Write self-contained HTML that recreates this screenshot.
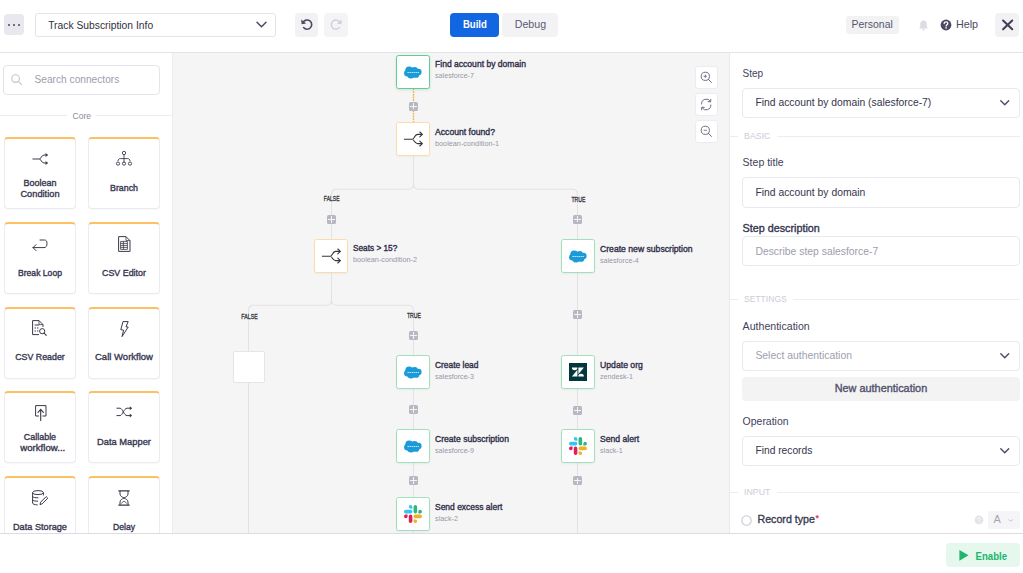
<!DOCTYPE html>
<html><head><meta charset="utf-8"><style>
*{box-sizing:border-box;margin:0;padding:0}
html,body{width:1023px;height:573px;overflow:hidden;background:#fff;font-family:"Liberation Sans",sans-serif}
.a{position:absolute}
svg.a{overflow:visible}
</style></head><body>
<div class="a" style="left:0px;top:0px;width:1023px;height:52px;background:#fff"></div>
<div class="a" style="left:0px;top:52px;width:1023px;height:1px;background:#e2e2e9"></div>
<div class="a" style="left:0px;top:53px;width:172px;height:480px;background:#fff"></div>
<div class="a" style="left:172px;top:53px;width:1px;height:480px;background:#ebebf0"></div>
<div class="a" style="left:173px;top:53px;width:556px;height:480px;background:#f5f5f5"></div>
<div class="a" style="left:729px;top:53px;width:1px;height:480px;background:#e8e8ed"></div>
<div class="a" style="left:730px;top:53px;width:293px;height:480px;background:#fff"></div>
<div class="a" style="left:4px;top:14px;width:20px;height:21px;background:#e8e8ee;border-radius:4px"></div>
<div class="a" style="left:7.8px;top:23.6px;width:2.4px;height:2.4px;background:#4a4a62;border-radius:50%"></div>
<div class="a" style="left:12.8px;top:23.6px;width:2.4px;height:2.4px;background:#4a4a62;border-radius:50%"></div>
<div class="a" style="left:17.8px;top:23.6px;width:2.4px;height:2.4px;background:#4a4a62;border-radius:50%"></div>
<div class="a" style="left:35px;top:13px;width:241px;height:24px;border:1px solid #e4e4ea;border-radius:3px;background:#fff"></div>
<div class="a" style="left:48.20px;top:21.00px;font-size:10.30px;line-height:10.30px;letter-spacing:0.000px;font-weight:normal;color:#2f2f40;white-space:nowrap;transform:scaleY(1.132);transform-origin:0 8px;">Track Subscription Info</div>
<svg class="a" style="left:256px;top:21px" width="11" height="7" viewBox="0 0 11 7" fill="none"><path d="M1 1.2 L5.5 5.7 L10 1.2" stroke="#4a4a60" stroke-width="1.5" stroke-linecap="round" stroke-linejoin="round"/></svg>
<div class="a" style="left:295px;top:13px;width:23px;height:24px;background:#f2f2f4;border-radius:4px"></div>
<svg class="a" style="left:300px;top:18px" width="13" height="13" viewBox="0 0 13 13" fill="none"><path d="M3.2 4.2 A4.6 4.6 0 1 1 3.6 9.6" stroke="#4a4a62" stroke-width="1.6" stroke-linecap="round"/><path d="M1.2 1.6 L1.6 6.2 L6.2 5.4 Z" fill="#4a4a62"/></svg>
<div class="a" style="left:324px;top:13px;width:24px;height:24px;background:#f4f4f6;border-radius:4px"></div>
<svg class="a" style="left:330px;top:18px" width="13" height="13" viewBox="0 0 13 13" fill="none"><path d="M9.8 4.2 A4.6 4.6 0 1 0 9.4 9.6" stroke="#cfcfd9" stroke-width="1.4" stroke-linecap="round"/><path d="M11.8 1.6 L11.4 6.2 L6.8 5.4 Z" fill="#cfcfd9"/></svg>
<div class="a" style="left:450px;top:13px;width:49px;height:24px;background:#1366e1;border-radius:4px"></div>
<div class="a" style="left:462.90px;top:20.00px;font-size:9.60px;line-height:9.60px;letter-spacing:0.000px;font-weight:bold;color:#fff;white-space:nowrap;transform:scaleY(1.143);transform-origin:0 8px;">Build</div>
<div class="a" style="left:502px;top:13px;width:56px;height:24px;background:#f3f3f5;border-radius:4px"></div>
<div class="a" style="left:514.70px;top:19.00px;font-size:10.66px;line-height:10.66px;letter-spacing:0.000px;font-weight:normal;color:#5a5a70;white-space:nowrap;transform:scaleY(1.030);transform-origin:0 9px;">Debug</div>
<div class="a" style="left:846px;top:16px;width:53px;height:18px;background:#f2f2f4;border-radius:3px"></div>
<div class="a" style="left:851.60px;top:20.00px;font-size:10.44px;line-height:10.44px;letter-spacing:0.000px;font-weight:normal;color:#55556c;white-space:nowrap;transform:scaleY(1.012);transform-origin:0 8px;">Personal</div>
<svg class="a" style="left:918px;top:19px" width="11" height="12" viewBox="0 0 11 12" fill="none"><path d="M5.5 1.5 C3 1.5 2.2 3.5 2.2 5.5 L2.2 8 L1 9.5 L10 9.5 L8.8 8 L8.8 5.5 C8.8 3.5 8 1.5 5.5 1.5Z" fill="#dcdce4"/><circle cx="5.5" cy="10.6" r="1.1" fill="#dcdce4"/></svg>
<svg class="a" style="left:940px;top:19px" width="12" height="12" viewBox="0 0 12 12" fill="none"><circle cx="6" cy="6" r="5.4" fill="#4a4a62"/><path d="M4.2 4.6 C4.2 3.4 5 2.8 6 2.8 C7 2.8 7.8 3.4 7.8 4.4 C7.8 5.6 6.1 5.7 6.1 7" stroke="#fff" stroke-width="1.3" stroke-linecap="round"/><circle cx="6.05" cy="8.9" r="0.8" fill="#fff"/></svg>
<div class="a" style="left:955.90px;top:19.00px;font-size:10.79px;line-height:10.79px;letter-spacing:0.000px;font-weight:normal;color:#4a4a62;white-space:nowrap;transform:scaleY(0.979);transform-origin:0 9px;">Help</div>
<div class="a" style="left:995px;top:13px;width:24px;height:24px;background:#f2f2f4;border-radius:4px"></div>
<svg class="a" style="left:1001px;top:19px" width="13" height="12" viewBox="0 0 13 12" fill="none"><path d="M2.1 1.5 L11.2 10.2 M11.2 1.5 L2.1 10.2" stroke="#40405a" stroke-width="2.1" stroke-linecap="round"/></svg>
<div class="a" style="left:3px;top:65px;width:157px;height:30px;border:1px solid #e4e4ea;border-radius:4px;background:#fff"></div>
<svg class="a" style="left:11px;top:74px" width="12" height="12" viewBox="0 0 12 12" fill="none"><circle cx="4.6" cy="4.6" r="3.8" stroke="#c4c4cc" stroke-width="1.1"/><path d="M7.4 7.4 L10.6 10.6" stroke="#c4c4cc" stroke-width="1.1" stroke-linecap="round"/></svg>
<div class="a" style="left:34.50px;top:75.00px;font-size:10.19px;line-height:10.19px;letter-spacing:0.000px;font-weight:normal;color:#9d9dab;white-space:nowrap;">Search connectors</div>
<div class="a" style="left:0px;top:115px;width:67px;height:1px;background:#ececf0"></div>
<div class="a" style="left:96px;top:115px;width:76px;height:1px;background:#ececf0"></div>
<div class="a" style="left:72.60px;top:112.00px;font-size:8.54px;line-height:8.54px;letter-spacing:0.000px;font-weight:normal;color:#8c8c9c;white-space:nowrap;">Core</div>
<div class="a" style="left:4px;top:137px;width:72px;height:72px;background:#fff;border:1px solid #ebebf0;border-top:2px solid #fdc062;border-radius:4px;box-shadow:0 1px 1px rgba(0,0,0,0.03)"></div>
<svg class="a" style="left:32.2px;top:153.2px" width="16" height="12" viewBox="0 0 16 12" fill="none"><path d="M0.5 6 L7.5 6 M7.5 6 C9 6 9.5 2 12 2 L15.5 2 M7.5 6 C9 6 9.5 10 12 10 L15.5 10" stroke="#3a3a48" stroke-width="1"/><path d="M13.6 0 L16 2 L13.6 4 Z M13.6 8 L16 10 L13.6 12 Z" fill="#3a3a48"/></svg>
<div class="a" style="left:23.50px;top:179.00px;font-size:8.99px;line-height:8.99px;letter-spacing:0.000px;font-weight:normal;color:#36364f;white-space:nowrap;-webkit-text-stroke:0.35px #36364f;">Boolean</div>
<div class="a" style="left:20.45px;top:190.00px;font-size:9.25px;line-height:9.25px;letter-spacing:0.000px;font-weight:normal;color:#36364f;white-space:nowrap;transform:scaleY(0.963);transform-origin:0 7px;-webkit-text-stroke:0.35px #36364f;">Condition</div>
<div class="a" style="left:88px;top:137px;width:72px;height:72px;background:#fff;border:1px solid #ebebf0;border-top:2px solid #fdc062;border-radius:4px;box-shadow:0 1px 1px rgba(0,0,0,0.03)"></div>
<svg class="a" style="left:116px;top:151.2px" width="16" height="15" viewBox="0 0 16 15" fill="none"><circle cx="8" cy="2" r="1.7" stroke="#3a3a48" stroke-width="0.9"/><path d="M8 3.7 L8 11.6 M8 7.6 L4.2 7.6 C2.8 7.6 2.2 8.6 2 10.2 M8 7.6 L11.8 7.6 C13.2 7.6 13.8 8.6 14 10.2" stroke="#3a3a48" stroke-width="0.9"/><circle cx="2" cy="12.6" r="1.6" stroke="#3a3a48" stroke-width="0.9"/><circle cx="8" cy="12.6" r="1.6" stroke="#3a3a48" stroke-width="0.9"/><circle cx="14" cy="12.6" r="1.6" stroke="#3a3a48" stroke-width="0.9"/></svg>
<div class="a" style="left:110.00px;top:184.00px;font-size:8.84px;line-height:8.84px;letter-spacing:0.000px;font-weight:normal;color:#36364f;white-space:nowrap;-webkit-text-stroke:0.35px #36364f;">Branch</div>
<div class="a" style="left:4px;top:221.75px;width:72px;height:72px;background:#fff;border:1px solid #ebebf0;border-top:2px solid #fdc062;border-radius:4px;box-shadow:0 1px 1px rgba(0,0,0,0.03)"></div>
<svg class="a" style="left:32.2px;top:238.6px" width="16" height="13" viewBox="0 0 16 13" fill="none"><path d="M8 1 L12.5 1 C14 1 15 2 15 4.5 C15 7 14 8.6 12 8.6 L1 8.6 M4 5.6 L1 8.6 L4 11.6" stroke="#3a3a48" stroke-width="1" stroke-linecap="round" stroke-linejoin="round"/></svg>
<div class="a" style="left:18.00px;top:269.00px;font-size:8.60px;line-height:8.60px;letter-spacing:-0.000px;font-weight:normal;color:#36364f;white-space:nowrap;transform:scaleY(1.036);transform-origin:0 7px;-webkit-text-stroke:0.35px #36364f;">Break Loop</div>
<div class="a" style="left:88px;top:221.75px;width:72px;height:72px;background:#fff;border:1px solid #ebebf0;border-top:2px solid #fdc062;border-radius:4px;box-shadow:0 1px 1px rgba(0,0,0,0.03)"></div>
<svg class="a" style="left:117.9px;top:235.8px" width="13" height="16" viewBox="0 0 13 16" fill="none"><path d="M0.6 0.6 L8 0.6 L12 4.6 L12 15.4 L0.6 15.4 Z" stroke="#3a3a48" stroke-width="1" stroke-linejoin="round"/><path d="M8 0.6 L8 4.6 L12 4.6" stroke="#3a3a48" stroke-width="0.8"/><path d="M2.6 5.4 L9.4 5.4 L9.4 13.4 L2.6 13.4 Z M2.6 7.4 L9.4 7.4 M2.6 9.4 L9.4 9.4 M2.6 11.4 L9.4 11.4 M5.4 5.4 L5.4 13.4" stroke="#3a3a48" stroke-width="0.8"/><path d="M12 5 L12 15.4" stroke="#9a9aa8" stroke-width="1.2"/></svg>
<div class="a" style="left:102.00px;top:269.00px;font-size:8.90px;line-height:8.90px;letter-spacing:-0.000px;font-weight:normal;color:#36364f;white-space:nowrap;-webkit-text-stroke:0.35px #36364f;">CSV Editor</div>
<div class="a" style="left:4px;top:306.5px;width:72px;height:72px;background:#fff;border:1px solid #ebebf0;border-top:2px solid #fdc062;border-radius:4px;box-shadow:0 1px 1px rgba(0,0,0,0.03)"></div>
<svg class="a" style="left:32px;top:320px" width="15" height="16" viewBox="0 0 15 16" fill="none"><path d="M0.6 14.6 L0.6 0.6 L7 0.6 L11 4.6 L11 7" stroke="#3a3a48" stroke-width="1" stroke-linejoin="round"/><path d="M0.6 14.6 L7 14.6" stroke="#3a3a48" stroke-width="1"/><path d="M7 0.6 L7 4.6 L11 4.6" stroke="#3a3a48" stroke-width="0.8"/><path d="M2.6 5 L7 5 M2.6 8 L4 8 M5 8 L6.4 8 M2.6 11 L4 11 M5 11 L6.4 11" stroke="#3a3a48" stroke-width="1.2"/><circle cx="10.2" cy="11.2" r="2.6" stroke="#3a3a48" stroke-width="1"/><path d="M12.2 13.2 L14.2 15.4" stroke="#3a3a48" stroke-width="1.1" stroke-linecap="round"/></svg>
<div class="a" style="left:15.20px;top:353.00px;font-size:8.84px;line-height:8.84px;letter-spacing:0.000px;font-weight:normal;color:#36364f;white-space:nowrap;-webkit-text-stroke:0.35px #36364f;">CSV Reader</div>
<div class="a" style="left:88px;top:306.5px;width:72px;height:72px;background:#fff;border:1px solid #ebebf0;border-top:2px solid #fdc062;border-radius:4px;box-shadow:0 1px 1px rgba(0,0,0,0.03)"></div>
<svg class="a" style="left:119.6px;top:320.6px" width="9" height="16" viewBox="0 0 9 16" fill="none"><path d="M3 0.6 L8.2 0.6 L6 5.8 L8.2 6 L2 15.6 L3.6 9.2 L0.8 8.6 Z" stroke="#3a3a48" stroke-width="1" stroke-linejoin="round"/></svg>
<div class="a" style="left:95.00px;top:352.00px;font-size:9.52px;line-height:9.52px;letter-spacing:-0.000px;font-weight:normal;color:#36364f;white-space:nowrap;transform:scaleY(0.937);transform-origin:0 8px;-webkit-text-stroke:0.35px #36364f;">Call Workflow</div>
<div class="a" style="left:4px;top:391.25px;width:72px;height:72px;background:#fff;border:1px solid #ebebf0;border-top:2px solid #fdc062;border-radius:4px;box-shadow:0 1px 1px rgba(0,0,0,0.03)"></div>
<svg class="a" style="left:34.5px;top:405px" width="12" height="16" viewBox="0 0 12 16" fill="none"><path d="M4 11 L0.6 11 L0.6 0.6 L11 0.6 L11 11 L7.4 11" stroke="#3a3a48" stroke-width="1"/><path d="M5.7 15.4 L5.7 4.4 M3 7.4 L5.7 4.4 L8.4 7.4" stroke="#3a3a48" stroke-width="1.1" stroke-linecap="round" stroke-linejoin="round"/></svg>
<div class="a" style="left:23.85px;top:433.00px;font-size:8.94px;line-height:8.94px;letter-spacing:0.000px;font-weight:normal;color:#36364f;white-space:nowrap;-webkit-text-stroke:0.35px #36364f;">Callable</div>
<div class="a" style="left:20.30px;top:443.00px;font-size:9.64px;line-height:9.64px;letter-spacing:0.000px;font-weight:normal;color:#36364f;white-space:nowrap;transform:scaleY(0.925);transform-origin:0 8px;-webkit-text-stroke:0.35px #36364f;">workflow...</div>
<div class="a" style="left:88px;top:391.25px;width:72px;height:72px;background:#fff;border:1px solid #ebebf0;border-top:2px solid #fdc062;border-radius:4px;box-shadow:0 1px 1px rgba(0,0,0,0.03)"></div>
<svg class="a" style="left:116.4px;top:406.2px" width="16" height="12" viewBox="0 0 16 12" fill="none"><path d="M0.5 2.2 L4 2.2 C6.5 2.2 8 9.6 11 9.6 L15.5 9.6 M0.5 9.6 L4 9.6 C6.5 9.6 8 2.2 11 2.2 L15.5 2.2" stroke="#3a3a48" stroke-width="1"/><path d="M13.8 0.2 L16 2.2 L13.8 4.2 Z M13.8 7.6 L16 9.6 L13.8 11.6 Z" fill="#3a3a48"/></svg>
<div class="a" style="left:97.00px;top:438.00px;font-size:9.34px;line-height:9.34px;letter-spacing:0.000px;font-weight:normal;color:#36364f;white-space:nowrap;transform:scaleY(0.955);transform-origin:0 7px;-webkit-text-stroke:0.35px #36364f;">Data Mapper</div>
<div class="a" style="left:4px;top:476px;width:72px;height:72px;background:#fff;border:1px solid #ebebf0;border-top:2px solid #fdc062;border-radius:4px;box-shadow:0 1px 1px rgba(0,0,0,0.03)"></div>
<svg class="a" style="left:32px;top:490.2px" width="16" height="15.5" viewBox="0 0 16 15.5" fill="none"><ellipse cx="6" cy="2.6" rx="5.4" ry="2" stroke="#3a3a48" stroke-width="1"/><path d="M0.6 2.6 L0.6 13 C0.6 14 2.5 14.8 5.6 14.9 M11.4 2.6 L11.4 5.4 M0.6 6.4 C1 7.4 3 7.8 6.4 7.8 M0.6 9.8 C1 10.8 3 11.2 6 11.2" stroke="#3a3a48" stroke-width="1"/><path d="M8 14.6 L8.6 12.2 L14.2 6.6 L15.8 8.2 L10.2 13.8 Z" stroke="#3a3a48" stroke-width="1" stroke-linejoin="round"/></svg>
<div class="a" style="left:13.00px;top:523.00px;font-size:9.16px;line-height:9.16px;letter-spacing:-0.000px;font-weight:normal;color:#36364f;white-space:nowrap;transform:scaleY(0.973);transform-origin:0 7px;-webkit-text-stroke:0.35px #36364f;">Data Storage</div>
<div class="a" style="left:88px;top:476px;width:72px;height:72px;background:#fff;border:1px solid #ebebf0;border-top:2px solid #fdc062;border-radius:4px;box-shadow:0 1px 1px rgba(0,0,0,0.03)"></div>
<svg class="a" style="left:118px;top:490px" width="12" height="16" viewBox="0 0 12 16" fill="none"><path d="M0.4 0.8 L11.6 0.8 M0.4 15.2 L11.6 15.2" stroke="#3a3a48" stroke-width="1.2"/><path d="M2 0.8 L2 4 C2 6 4 7 6 8 C8 7 10 6 10 4 L10 0.8 M2 15.2 L2 12 C2 10 4 9 6 8 C8 9 10 10 10 12 L10 15.2" stroke="#3a3a48" stroke-width="1"/><path d="M3.2 13.4 L6 11 L8.8 13.4" stroke="#3a3a48" stroke-width="0.8"/></svg>
<div class="a" style="left:113.00px;top:523.00px;font-size:8.60px;line-height:8.60px;letter-spacing:0.000px;font-weight:normal;color:#36364f;white-space:nowrap;transform:scaleY(1.036);transform-origin:0 7px;-webkit-text-stroke:0.35px #36364f;">Delay</div>
<svg class="a" style="left:0;top:0" width="1023" height="573"><path d="M413.5 156 L413.5 184 Q413.5 189.2 408.3 189.2 L336.7 189.2 Q331.5 189.2 331.5 194.4 L331.5 240 M413.5 184 Q413.5 189.2 418.7 189.2 L572.3 189.2 Q577.5 189.2 577.5 194.4 L577.5 533" stroke="#e1e1e7" stroke-width="1.05" fill="none"/></svg>
<svg class="a" style="left:0;top:0" width="1023" height="573"><path d="M331.5 272 L331.5 300 Q331.5 305.2 326.3 305.2 L253.7 305.2 Q248.5 305.2 248.5 310.4 L248.5 533 M331.5 300 Q331.5 305.2 336.7 305.2 L408.3 305.2 Q413.5 305.2 413.5 310.4 L413.5 533" stroke="#e1e1e7" stroke-width="1.05" fill="none"/></svg>
<svg class="a" style="left:0;top:0" width="1023" height="573"><path d="M413.5 88.5 L413.5 122" stroke="#f5b03a" stroke-width="1.3" stroke-dasharray="1.8 0.9" fill="none"/></svg>
<div class="a" style="left:409px;top:101.5px;width:9px;height:9px;background:#b8b8c4;border-radius:1.5px"></div>
<div class="a" style="left:413px;top:102.8px;width:1px;height:6.4px;background:#f5f5f6"></div>
<div class="a" style="left:410.3px;top:105.5px;width:6.4px;height:1px;background:#f5f5f6"></div>
<div class="a" style="left:327px;top:215px;width:9px;height:9px;background:#b8b8c4;border-radius:1.5px"></div>
<div class="a" style="left:331px;top:216.3px;width:1px;height:6.4px;background:#f5f5f6"></div>
<div class="a" style="left:328.3px;top:219px;width:6.4px;height:1px;background:#f5f5f6"></div>
<div class="a" style="left:573px;top:214.7px;width:9px;height:9px;background:#b8b8c4;border-radius:1.5px"></div>
<div class="a" style="left:577px;top:216.0px;width:1px;height:6.4px;background:#f5f5f6"></div>
<div class="a" style="left:574.3px;top:218.7px;width:6.4px;height:1px;background:#f5f5f6"></div>
<div class="a" style="left:573px;top:310px;width:9px;height:9px;background:#b8b8c4;border-radius:1.5px"></div>
<div class="a" style="left:577px;top:311.3px;width:1px;height:6.4px;background:#f5f5f6"></div>
<div class="a" style="left:574.3px;top:314px;width:6.4px;height:1px;background:#f5f5f6"></div>
<div class="a" style="left:409px;top:331px;width:9px;height:9px;background:#b8b8c4;border-radius:1.5px"></div>
<div class="a" style="left:413px;top:332.3px;width:1px;height:6.4px;background:#f5f5f6"></div>
<div class="a" style="left:410.3px;top:335px;width:6.4px;height:1px;background:#f5f5f6"></div>
<div class="a" style="left:409px;top:405px;width:9px;height:9px;background:#b8b8c4;border-radius:1.5px"></div>
<div class="a" style="left:413px;top:406.3px;width:1px;height:6.4px;background:#f5f5f6"></div>
<div class="a" style="left:410.3px;top:409px;width:6.4px;height:1px;background:#f5f5f6"></div>
<div class="a" style="left:573px;top:405.5px;width:9px;height:9px;background:#b8b8c4;border-radius:1.5px"></div>
<div class="a" style="left:577px;top:406.8px;width:1px;height:6.4px;background:#f5f5f6"></div>
<div class="a" style="left:574.3px;top:409.5px;width:6.4px;height:1px;background:#f5f5f6"></div>
<div class="a" style="left:409px;top:476px;width:9px;height:9px;background:#b8b8c4;border-radius:1.5px"></div>
<div class="a" style="left:413px;top:477.3px;width:1px;height:6.4px;background:#f5f5f6"></div>
<div class="a" style="left:410.3px;top:480px;width:6.4px;height:1px;background:#f5f5f6"></div>
<div class="a" style="left:573px;top:476.4px;width:9px;height:9px;background:#b8b8c4;border-radius:1.5px"></div>
<div class="a" style="left:577px;top:477.7px;width:1px;height:6.4px;background:#f5f5f6"></div>
<div class="a" style="left:574.3px;top:480.4px;width:6.4px;height:1px;background:#f5f5f6"></div>
<div class="a" style="left:323.35px;top:197.00px;font-size:5.04px;line-height:5.04px;letter-spacing:0.000px;font-weight:normal;color:#2a2a30;white-space:nowrap;transform:scaleY(1.360);transform-origin:0 4px;-webkit-text-stroke:0.2px #2a2a30;background:#f5f5f5;padding:0 0.5px">FALSE</div>
<div class="a" style="left:570.95px;top:198.00px;font-size:5.18px;line-height:5.18px;letter-spacing:0.000px;font-weight:normal;color:#2a2a30;white-space:nowrap;transform:scaleY(1.324);transform-origin:0 4px;-webkit-text-stroke:0.2px #2a2a30;background:#f5f5f5;padding:0 0.5px">TRUE</div>
<div class="a" style="left:240.85px;top:315.00px;font-size:5.24px;line-height:5.24px;letter-spacing:0.000px;font-weight:normal;color:#2a2a30;white-space:nowrap;transform:scaleY(1.310);transform-origin:0 3px;-webkit-text-stroke:0.2px #2a2a30;background:#f5f5f5;padding:0 0.5px">FALSE</div>
<div class="a" style="left:406.45px;top:314.00px;font-size:5.18px;line-height:5.18px;letter-spacing:0.000px;font-weight:normal;color:#2a2a30;white-space:nowrap;transform:scaleY(1.324);transform-origin:0 4px;-webkit-text-stroke:0.2px #2a2a30;background:#f5f5f5;padding:0 0.5px">TRUE</div>
<div class="a" style="left:396px;top:122px;width:34px;height:34px;background:#fff;border-radius:2.5px;border:1px solid #fcdcaa;box-shadow:0 1px 2px rgba(0,0,0,0.04)"></div>
<svg class="a" style="left:403px;top:131px" width="21" height="16" viewBox="0 0 21 16" fill="none"><path d="M0.9 8.3 L9.4 8.3 C11 8.3 11.6 3.4 14.6 3.4 L19 3.4 M9.4 8.3 C11 8.3 11.6 12.6 14.6 12.6 L19 12.6" stroke="#33333d" stroke-width="1.1" fill="none"/><path d="M16.8 1 L19.4 3.4 L16.8 5.8 M16.8 10.2 L19.4 12.6 L16.8 15" stroke="#33333d" stroke-width="1.1" fill="none" stroke-linejoin="round" stroke-linecap="round"/></svg>
<div class="a" style="left:435.00px;top:128.00px;font-size:8.63px;line-height:8.63px;letter-spacing:0.000px;font-weight:normal;color:#2e2e48;white-space:nowrap;transform:scaleY(1.017);transform-origin:0 7px;-webkit-text-stroke:0.35px #2e2e48;">Account found?</div>
<div class="a" style="left:435.00px;top:140.00px;font-size:7.29px;line-height:7.29px;letter-spacing:0.000px;font-weight:normal;color:#9898a6;white-space:nowrap;transform:scaleY(0.979);transform-origin:0 6px;">boolean-condition-1</div>
<div class="a" style="left:314px;top:238.5px;width:34px;height:34px;background:#fff;border-radius:2.5px;border:1px solid #fcdcaa;box-shadow:0 1px 2px rgba(0,0,0,0.04)"></div>
<svg class="a" style="left:321px;top:247.5px" width="21" height="16" viewBox="0 0 21 16" fill="none"><path d="M0.9 8.3 L9.4 8.3 C11 8.3 11.6 3.4 14.6 3.4 L19 3.4 M9.4 8.3 C11 8.3 11.6 12.6 14.6 12.6 L19 12.6" stroke="#33333d" stroke-width="1.1" fill="none"/><path d="M16.8 1 L19.4 3.4 L16.8 5.8 M16.8 10.2 L19.4 12.6 L16.8 15" stroke="#33333d" stroke-width="1.1" fill="none" stroke-linejoin="round" stroke-linecap="round"/></svg>
<div class="a" style="left:353.00px;top:245.00px;font-size:8.26px;line-height:8.26px;letter-spacing:0.000px;font-weight:normal;color:#2e2e48;white-space:nowrap;transform:scaleY(1.063);transform-origin:0 6px;-webkit-text-stroke:0.35px #2e2e48;">Seats &gt; 15?</div>
<div class="a" style="left:353.00px;top:256.00px;font-size:7.29px;line-height:7.29px;letter-spacing:0.000px;font-weight:normal;color:#9898a6;white-space:nowrap;transform:scaleY(0.979);transform-origin:0 6px;">boolean-condition-2</div>
<div class="a" style="left:561px;top:239px;width:34px;height:34px;background:#fff;border-radius:2.5px;border:1px solid #9fe0bd;box-shadow:0 1px 2px rgba(0,0,0,0.05)"></div>
<svg class="a" style="left:569px;top:250px" width="19" height="13" viewBox="0 0 19 13" fill="none"><g fill="#1b9bd8"><circle cx="5.2" cy="4.3" r="3.9"/><circle cx="10.6" cy="4.3" r="3.3"/><circle cx="14.4" cy="6" r="3.2"/><circle cx="12" cy="8.4" r="3.4"/><circle cx="7" cy="8.6" r="3.9"/><circle cx="3.3" cy="7.2" r="3.2"/></g><path d="M3.4 6.5 L15 6.5" stroke="#b5e2f5" stroke-width="1.1" stroke-dasharray="1.6 0.5"/></svg>
<div class="a" style="left:600.00px;top:245.00px;font-size:8.63px;line-height:8.63px;letter-spacing:-0.000px;font-weight:normal;color:#2e2e48;white-space:nowrap;transform:scaleY(1.017);transform-origin:0 7px;-webkit-text-stroke:0.35px #2e2e48;">Create new subscription</div>
<div class="a" style="left:600.00px;top:258.00px;font-size:7.11px;line-height:7.11px;letter-spacing:0.000px;font-weight:normal;color:#9898a6;white-space:nowrap;">salesforce-4</div>
<div class="a" style="left:233px;top:351px;width:31.5px;height:31.5px;background:#fff;border:1px solid #e4e4ea;border-radius:2px"></div>
<div class="a" style="left:396px;top:355px;width:34px;height:34px;background:#fff;border-radius:2.5px;border:1px solid #9fe0bd;box-shadow:0 1px 2px rgba(0,0,0,0.05)"></div>
<svg class="a" style="left:404px;top:366px" width="19" height="13" viewBox="0 0 19 13" fill="none"><g fill="#1b9bd8"><circle cx="5.2" cy="4.3" r="3.9"/><circle cx="10.6" cy="4.3" r="3.3"/><circle cx="14.4" cy="6" r="3.2"/><circle cx="12" cy="8.4" r="3.4"/><circle cx="7" cy="8.6" r="3.9"/><circle cx="3.3" cy="7.2" r="3.2"/></g><path d="M3.4 6.5 L15 6.5" stroke="#b5e2f5" stroke-width="1.1" stroke-dasharray="1.6 0.5"/></svg>
<div class="a" style="left:435.00px;top:361.00px;font-size:8.41px;line-height:8.41px;letter-spacing:0.000px;font-weight:normal;color:#2e2e48;white-space:nowrap;transform:scaleY(1.043);transform-origin:0 7px;-webkit-text-stroke:0.35px #2e2e48;">Create lead</div>
<div class="a" style="left:435.00px;top:374.00px;font-size:7.16px;line-height:7.16px;letter-spacing:0.000px;font-weight:normal;color:#9898a6;white-space:nowrap;">salesforce-3</div>
<div class="a" style="left:561px;top:355px;width:34px;height:34px;background:#fff;border-radius:2.5px;border:1px solid #9fe0bd;box-shadow:0 1px 2px rgba(0,0,0,0.05)"></div>
<svg class="a" style="left:569px;top:363px" width="18" height="18" viewBox="0 0 18 18" fill="none"><rect x="0" y="0" width="18" height="18" fill="#03363d"/><g transform="translate(2.9 4.4) scale(0.474) translate(0 -4.5)" fill="#fff"><path d="M11.7 9.6v14.3H0z"/><path d="M11.7 4.5a5.85 5.85 0 0 1-11.7 0z"/><path d="M13.6 23.9a5.85 5.85 0 0 1 11.7 0z"/><path d="M13.6 18.8V4.5h11.7z"/></g></svg>
<div class="a" style="left:600.00px;top:361.00px;font-size:8.69px;line-height:8.69px;letter-spacing:0.000px;font-weight:normal;color:#2e2e48;white-space:nowrap;transform:scaleY(1.010);transform-origin:0 7px;-webkit-text-stroke:0.35px #2e2e48;">Update org</div>
<div class="a" style="left:600.00px;top:374.00px;font-size:7.15px;line-height:7.15px;letter-spacing:0.000px;font-weight:normal;color:#9898a6;white-space:nowrap;">zendesk-1</div>
<div class="a" style="left:396px;top:429px;width:34px;height:34px;background:#fff;border-radius:2.5px;border:1px solid #9fe0bd;box-shadow:0 1px 2px rgba(0,0,0,0.05)"></div>
<svg class="a" style="left:404px;top:440px" width="19" height="13" viewBox="0 0 19 13" fill="none"><g fill="#1b9bd8"><circle cx="5.2" cy="4.3" r="3.9"/><circle cx="10.6" cy="4.3" r="3.3"/><circle cx="14.4" cy="6" r="3.2"/><circle cx="12" cy="8.4" r="3.4"/><circle cx="7" cy="8.6" r="3.9"/><circle cx="3.3" cy="7.2" r="3.2"/></g><path d="M3.4 6.5 L15 6.5" stroke="#b5e2f5" stroke-width="1.1" stroke-dasharray="1.6 0.5"/></svg>
<div class="a" style="left:435.00px;top:435.00px;font-size:8.59px;line-height:8.59px;letter-spacing:0.000px;font-weight:normal;color:#2e2e48;white-space:nowrap;transform:scaleY(1.022);transform-origin:0 7px;-webkit-text-stroke:0.35px #2e2e48;">Create subscription</div>
<div class="a" style="left:435.00px;top:448.00px;font-size:7.16px;line-height:7.16px;letter-spacing:0.000px;font-weight:normal;color:#9898a6;white-space:nowrap;">salesforce-9</div>
<div class="a" style="left:561px;top:429px;width:34px;height:34px;background:#fff;border-radius:2.5px;border:1px solid #9fe0bd;box-shadow:0 1px 2px rgba(0,0,0,0.05)"></div>
<svg class="a" style="left:569px;top:437px" width="18" height="18" viewBox="0 0 18 18" fill="none"><g transform="scale(0.3333)"><path d="M19.712.133a5.381 5.381 0 0 0-5.376 5.387 5.381 5.381 0 0 0 5.376 5.386h5.376V5.52A5.381 5.381 0 0 0 19.712.133m0 14.365H5.376A5.381 5.381 0 0 0 0 19.884a5.381 5.381 0 0 0 5.376 5.387h14.336a5.381 5.381 0 0 0 5.376-5.387 5.381 5.381 0 0 0-5.376-5.386" fill="#36C5F0"/><path d="M53.76 19.884a5.381 5.381 0 0 0-5.376-5.386 5.381 5.381 0 0 0-5.376 5.386v5.387h5.376a5.381 5.381 0 0 0 5.376-5.387m-14.336 0V5.52A5.381 5.381 0 0 0 34.048.133a5.381 5.381 0 0 0-5.376 5.387v14.364a5.381 5.381 0 0 0 5.376 5.387 5.381 5.381 0 0 0 5.376-5.387" fill="#2EB67D"/><path d="M34.048 54a5.381 5.381 0 0 0 5.376-5.387 5.381 5.381 0 0 0-5.376-5.386h-5.376v5.386A5.381 5.381 0 0 0 34.048 54m0-14.365h14.336a5.381 5.381 0 0 0 5.376-5.386 5.381 5.381 0 0 0-5.376-5.387H34.048a5.381 5.381 0 0 0-5.376 5.387 5.381 5.381 0 0 0 5.376 5.386" fill="#ECB22E"/><path d="M0 34.249a5.381 5.381 0 0 0 5.376 5.386 5.381 5.381 0 0 0 5.376-5.386v-5.387H5.376A5.381 5.381 0 0 0 0 34.249m14.336 0v14.364A5.381 5.381 0 0 0 19.712 54a5.381 5.381 0 0 0 5.376-5.387V34.249a5.381 5.381 0 0 0-5.376-5.387 5.381 5.381 0 0 0-5.376 5.387" fill="#E01E5A"/></g></svg>
<div class="a" style="left:600.00px;top:435.00px;font-size:8.62px;line-height:8.62px;letter-spacing:0.000px;font-weight:normal;color:#2e2e48;white-space:nowrap;transform:scaleY(1.018);transform-origin:0 7px;-webkit-text-stroke:0.35px #2e2e48;">Send alert</div>
<div class="a" style="left:600.00px;top:448.00px;font-size:7.17px;line-height:7.17px;letter-spacing:0.000px;font-weight:normal;color:#9898a6;white-space:nowrap;">slack-1</div>
<div class="a" style="left:396px;top:497px;width:34px;height:34px;background:#fff;border-radius:2.5px;border:1px solid #9fe0bd;box-shadow:0 1px 2px rgba(0,0,0,0.05)"></div>
<svg class="a" style="left:404px;top:505px" width="18" height="18" viewBox="0 0 18 18" fill="none"><g transform="scale(0.3333)"><path d="M19.712.133a5.381 5.381 0 0 0-5.376 5.387 5.381 5.381 0 0 0 5.376 5.386h5.376V5.52A5.381 5.381 0 0 0 19.712.133m0 14.365H5.376A5.381 5.381 0 0 0 0 19.884a5.381 5.381 0 0 0 5.376 5.387h14.336a5.381 5.381 0 0 0 5.376-5.387 5.381 5.381 0 0 0-5.376-5.386" fill="#36C5F0"/><path d="M53.76 19.884a5.381 5.381 0 0 0-5.376-5.386 5.381 5.381 0 0 0-5.376 5.386v5.387h5.376a5.381 5.381 0 0 0 5.376-5.387m-14.336 0V5.52A5.381 5.381 0 0 0 34.048.133a5.381 5.381 0 0 0-5.376 5.387v14.364a5.381 5.381 0 0 0 5.376 5.387 5.381 5.381 0 0 0 5.376-5.387" fill="#2EB67D"/><path d="M34.048 54a5.381 5.381 0 0 0 5.376-5.387 5.381 5.381 0 0 0-5.376-5.386h-5.376v5.386A5.381 5.381 0 0 0 34.048 54m0-14.365h14.336a5.381 5.381 0 0 0 5.376-5.386 5.381 5.381 0 0 0-5.376-5.387H34.048a5.381 5.381 0 0 0-5.376 5.387 5.381 5.381 0 0 0 5.376 5.386" fill="#ECB22E"/><path d="M0 34.249a5.381 5.381 0 0 0 5.376 5.386 5.381 5.381 0 0 0 5.376-5.386v-5.387H5.376A5.381 5.381 0 0 0 0 34.249m14.336 0v14.364A5.381 5.381 0 0 0 19.712 54a5.381 5.381 0 0 0 5.376-5.387V34.249a5.381 5.381 0 0 0-5.376-5.387 5.381 5.381 0 0 0-5.376 5.387" fill="#E01E5A"/></g></svg>
<div class="a" style="left:435.00px;top:503.00px;font-size:8.47px;line-height:8.47px;letter-spacing:0.000px;font-weight:normal;color:#2e2e48;white-space:nowrap;transform:scaleY(1.037);transform-origin:0 7px;-webkit-text-stroke:0.35px #2e2e48;">Send excess alert</div>
<div class="a" style="left:435.00px;top:515.00px;font-size:7.26px;line-height:7.26px;letter-spacing:0.000px;font-weight:normal;color:#9898a6;white-space:nowrap;transform:scaleY(0.982);transform-origin:0 6px;">slack-2</div>
<div class="a" style="left:396px;top:54.5px;width:34px;height:34px;background:#fff;border-radius:2.5px;border:1.8px solid #5ccf92;box-shadow:0 1px 3px rgba(0,0,0,0.10)"></div>
<svg class="a" style="left:404px;top:65.5px" width="19" height="13" viewBox="0 0 19 13" fill="none"><g fill="#1b9bd8"><circle cx="5.2" cy="4.3" r="3.9"/><circle cx="10.6" cy="4.3" r="3.3"/><circle cx="14.4" cy="6" r="3.2"/><circle cx="12" cy="8.4" r="3.4"/><circle cx="7" cy="8.6" r="3.9"/><circle cx="3.3" cy="7.2" r="3.2"/></g><path d="M3.4 6.5 L15 6.5" stroke="#b5e2f5" stroke-width="1.1" stroke-dasharray="1.6 0.5"/></svg>
<div class="a" style="left:435.00px;top:60.00px;font-size:8.57px;line-height:8.57px;letter-spacing:0.000px;font-weight:normal;color:#2e2e48;white-space:nowrap;transform:scaleY(1.024);transform-origin:0 7px;-webkit-text-stroke:0.35px #2e2e48;">Find account by domain</div>
<div class="a" style="left:435.00px;top:73.00px;font-size:7.16px;line-height:7.16px;letter-spacing:0.000px;font-weight:normal;color:#9898a6;white-space:nowrap;">salesforce-7</div>
<div class="a" style="left:694.5px;top:65.5px;width:23px;height:23px;background:#fff;border:1px solid #ececf0;border-radius:3px"></div>
<div class="a" style="left:694.5px;top:92.5px;width:23px;height:23px;background:#fff;border:1px solid #ececf0;border-radius:3px"></div>
<div class="a" style="left:694.5px;top:119.5px;width:23px;height:23px;background:#fff;border:1px solid #ececf0;border-radius:3px"></div>
<svg class="a" style="left:699.5px;top:70.5px" width="13" height="13" viewBox="0 0 13 13" fill="none"><circle cx="5.3" cy="5.3" r="4.1" stroke="#66667c" stroke-width="0.95"/><path d="M8.3 8.3 L11.4 11.4" stroke="#66667c" stroke-width="1" stroke-linecap="round"/><path d="M5.3 3.6 L5.3 7 M3.6 5.3 L7 5.3" stroke="#66667c" stroke-width="0.8"/></svg>
<svg class="a" style="left:700px;top:97.5px" width="13" height="13" viewBox="0 0 13 13" fill="none"><path d="M1.6 6.4 A4.7 4.7 0 0 1 10.4 3.6" stroke="#66667c" stroke-width="0.95" fill="none"/><path d="M10.8 0.9 L10.6 3.9 L7.7 3.6" stroke="#66667c" stroke-width="0.95" fill="none" stroke-linejoin="round"/><path d="M10.8 6.6 A4.7 4.7 0 0 1 2 9.4" stroke="#66667c" stroke-width="0.95" fill="none"/><path d="M1.6 12.1 L1.8 9.1 L4.7 9.4" stroke="#66667c" stroke-width="0.95" fill="none" stroke-linejoin="round"/></svg>
<svg class="a" style="left:699.5px;top:124.5px" width="13" height="13" viewBox="0 0 13 13" fill="none"><circle cx="5.3" cy="5.3" r="4.1" stroke="#66667c" stroke-width="0.95"/><path d="M8.3 8.3 L11.4 11.4" stroke="#66667c" stroke-width="1" stroke-linecap="round"/><path d="M3.6 5.3 L7 5.3" stroke="#66667c" stroke-width="0.8"/></svg>
<div class="a" style="left:742.60px;top:69.00px;font-size:10.01px;line-height:10.01px;letter-spacing:0.000px;font-weight:normal;color:#42425a;white-space:nowrap;transform:scaleY(1.082);transform-origin:0 8px;">Step</div>
<div class="a" style="left:742px;top:88px;width:278px;height:29.5px;background:#fff;border:1px solid #e8e8ee;border-radius:4px"></div>
<div class="a" style="left:755.40px;top:98.00px;font-size:10.35px;line-height:10.35px;letter-spacing:0.000px;font-weight:normal;color:#34344a;white-space:nowrap;transform:scaleY(1.047);transform-origin:0 8px;">Find account by domain (salesforce-7)</div>
<svg class="a" style="left:1000px;top:99.8px" width="9.5" height="5.5" viewBox="0 0 9.5 5.5" fill="none"><path d="M0.8 0.8 L4.75 4.7 L8.7 0.8" stroke="#4a4a60" stroke-width="1.4" stroke-linecap="round" stroke-linejoin="round"/></svg>
<div class="a" style="left:730px;top:135.8px;width:8px;height:1px;background:#ececf1"></div>
<div class="a" style="left:744.00px;top:132.00px;font-size:8.83px;line-height:8.83px;letter-spacing:0.000px;font-weight:normal;color:#cbcdd6;white-space:nowrap;transform:scaleY(1.056);transform-origin:0 7px;">BASIC</div>
<div class="a" style="left:777.0px;top:135.8px;width:243.0px;height:1px;background:#ececf1"></div>
<div class="a" style="left:742.60px;top:157.00px;font-size:10.54px;line-height:10.54px;letter-spacing:0.000px;font-weight:normal;color:#42425a;white-space:nowrap;transform:scaleY(1.028);transform-origin:0 9px;">Step title</div>
<div class="a" style="left:742px;top:177px;width:278px;height:30.5px;background:#fff;border:1px solid #e8e8ee;border-radius:4px"></div>
<div class="a" style="left:755.40px;top:188.00px;font-size:10.36px;line-height:10.36px;letter-spacing:0.000px;font-weight:normal;color:#34344a;white-space:nowrap;transform:scaleY(1.046);transform-origin:0 8px;">Find account by domain</div>
<div class="a" style="left:742.60px;top:223.00px;font-size:10.77px;line-height:10.77px;letter-spacing:0.000px;font-weight:normal;color:#34344e;white-space:nowrap;-webkit-text-stroke:0.35px #34344e;">Step description</div>
<div class="a" style="left:742px;top:236px;width:278px;height:29.5px;background:#fff;border:1px solid #e8e8ee;border-radius:4px"></div>
<div class="a" style="left:755.40px;top:247.00px;font-size:10.38px;line-height:10.38px;letter-spacing:-0.000px;font-weight:normal;color:#9d9dab;white-space:nowrap;transform:scaleY(1.044);transform-origin:0 8px;">Describe step salesforce-7</div>
<div class="a" style="left:730px;top:298.9px;width:8px;height:1px;background:#ececf1"></div>
<div class="a" style="left:744.00px;top:295.00px;font-size:8.56px;line-height:8.56px;letter-spacing:-0.000px;font-weight:normal;color:#cbcdd6;white-space:nowrap;transform:scaleY(1.090);transform-origin:0 7px;">SETTINGS</div>
<div class="a" style="left:793.3px;top:298.9px;width:226.70000000000005px;height:1px;background:#ececf1"></div>
<div class="a" style="left:742.60px;top:321.00px;font-size:10.60px;line-height:10.60px;letter-spacing:0.000px;font-weight:normal;color:#42425a;white-space:nowrap;transform:scaleY(1.022);transform-origin:0 9px;">Authentication</div>
<div class="a" style="left:742px;top:341px;width:278px;height:30px;background:#fff;border:1px solid #e8e8ee;border-radius:4px"></div>
<div class="a" style="left:755.40px;top:351.00px;font-size:10.42px;line-height:10.42px;letter-spacing:0.000px;font-weight:normal;color:#a0a0ae;white-space:nowrap;transform:scaleY(1.040);transform-origin:0 8px;">Select authentication</div>
<svg class="a" style="left:1000px;top:352.8px" width="9.5" height="5.5" viewBox="0 0 9.5 5.5" fill="none"><path d="M0.8 0.8 L4.75 4.7 L8.7 0.8" stroke="#4a4a60" stroke-width="1.4" stroke-linecap="round" stroke-linejoin="round"/></svg>
<div class="a" style="left:742px;top:377px;width:278px;height:24px;background:#f3f3f4;border-radius:4px"></div>
<div class="a" style="left:834.70px;top:383.00px;font-size:10.88px;line-height:10.88px;letter-spacing:0.000px;font-weight:normal;color:#50506a;white-space:nowrap;-webkit-text-stroke:0.35px #50506a;">New authentication</div>
<div class="a" style="left:742.60px;top:417.00px;font-size:10.47px;line-height:10.47px;letter-spacing:0.000px;font-weight:normal;color:#42425a;white-space:nowrap;transform:scaleY(1.035);transform-origin:0 8px;">Operation</div>
<div class="a" style="left:742px;top:436px;width:278px;height:29.5px;background:#fff;border:1px solid #e8e8ee;border-radius:4px"></div>
<div class="a" style="left:755.40px;top:446.00px;font-size:10.26px;line-height:10.26px;letter-spacing:0.000px;font-weight:normal;color:#34344a;white-space:nowrap;transform:scaleY(1.057);transform-origin:0 8px;">Find records</div>
<svg class="a" style="left:1000px;top:447.8px" width="9.5" height="5.5" viewBox="0 0 9.5 5.5" fill="none"><path d="M0.8 0.8 L4.75 4.7 L8.7 0.8" stroke="#4a4a60" stroke-width="1.4" stroke-linecap="round" stroke-linejoin="round"/></svg>
<div class="a" style="left:730px;top:491.8px;width:8px;height:1px;background:#ececf1"></div>
<div class="a" style="left:744.00px;top:488.00px;font-size:8.80px;line-height:8.80px;letter-spacing:0.000px;font-weight:normal;color:#cbcdd6;white-space:nowrap;transform:scaleY(1.060);transform-origin:0 7px;">INPUT</div>
<div class="a" style="left:776.9px;top:491.8px;width:243.10000000000002px;height:1px;background:#ececf1"></div>
<svg class="a" style="left:741px;top:515px" width="11" height="11" viewBox="0 0 11 11" fill="none"><circle cx="5.5" cy="5.5" r="4.7" stroke="#c9cad4" stroke-width="1.1"/></svg>
<div class="a" style="left:757.50px;top:514.00px;font-size:10.65px;line-height:10.65px;letter-spacing:0.000px;font-weight:normal;color:#3a3a52;white-space:nowrap;-webkit-text-stroke:0.35px #3a3a52;">Record type</div>
<div class="a" style="left:815.60px;top:514.00px;font-size:8.74px;line-height:8.74px;letter-spacing:0.000px;font-weight:normal;color:#e0344a;white-space:nowrap;transform:scaleY(0.973);transform-origin:0 7px;-webkit-text-stroke:0.25px #e0344a">*</div>
<svg class="a" style="left:974px;top:515px" width="10" height="10" viewBox="0 0 10 10" fill="none"><circle cx="5" cy="5" r="4.4" fill="#e2e2e8"/><path d="M3.6 4 C3.6 3.2 4.2 2.8 5 2.8 C5.8 2.8 6.4 3.2 6.4 3.9 C6.4 4.8 5.1 4.8 5.1 5.8" stroke="#fff" stroke-width="0.9" stroke-linecap="round"/><circle cx="5.05" cy="7.1" r="0.55" fill="#fff"/></svg>
<div class="a" style="left:988px;top:511px;width:32px;height:18px;background:#f5f5f8;border-radius:3px"></div>
<div class="a" style="left:993.40px;top:514.00px;font-size:10.94px;line-height:10.94px;letter-spacing:0.000px;font-weight:normal;color:#a4a4b2;white-space:nowrap;">A</div>
<svg class="a" style="left:1008px;top:519px" width="5.4" height="3" viewBox="0 0 5.4 3" fill="none"><path d="M0.8 0.8 L2.7 2.2 L4.6000000000000005 0.8" stroke="#c0c0ca" stroke-width="0.9" stroke-linecap="round" stroke-linejoin="round"/></svg>
<div class="a" style="left:0px;top:533px;width:1023px;height:1px;background:#dcdce3"></div>
<div class="a" style="left:0px;top:534px;width:1023px;height:39px;background:#fff"></div>
<div class="a" style="left:946px;top:543px;width:74px;height:24px;background:#e6f7ee;border-radius:4px"></div>
<svg class="a" style="left:958.5px;top:549.8px" width="11" height="11" viewBox="0 0 11 11" fill="none"><path d="M0.4 0 L9.6 5.35 L0.4 10.7 Z" fill="#1fb66b"/></svg>
<div class="a" style="left:975.60px;top:552.00px;font-size:9.61px;line-height:9.61px;letter-spacing:0.000px;font-weight:bold;color:#20b56c;white-space:nowrap;transform:scaleY(1.071);transform-origin:0 8px;">Enable</div>
</body></html>
